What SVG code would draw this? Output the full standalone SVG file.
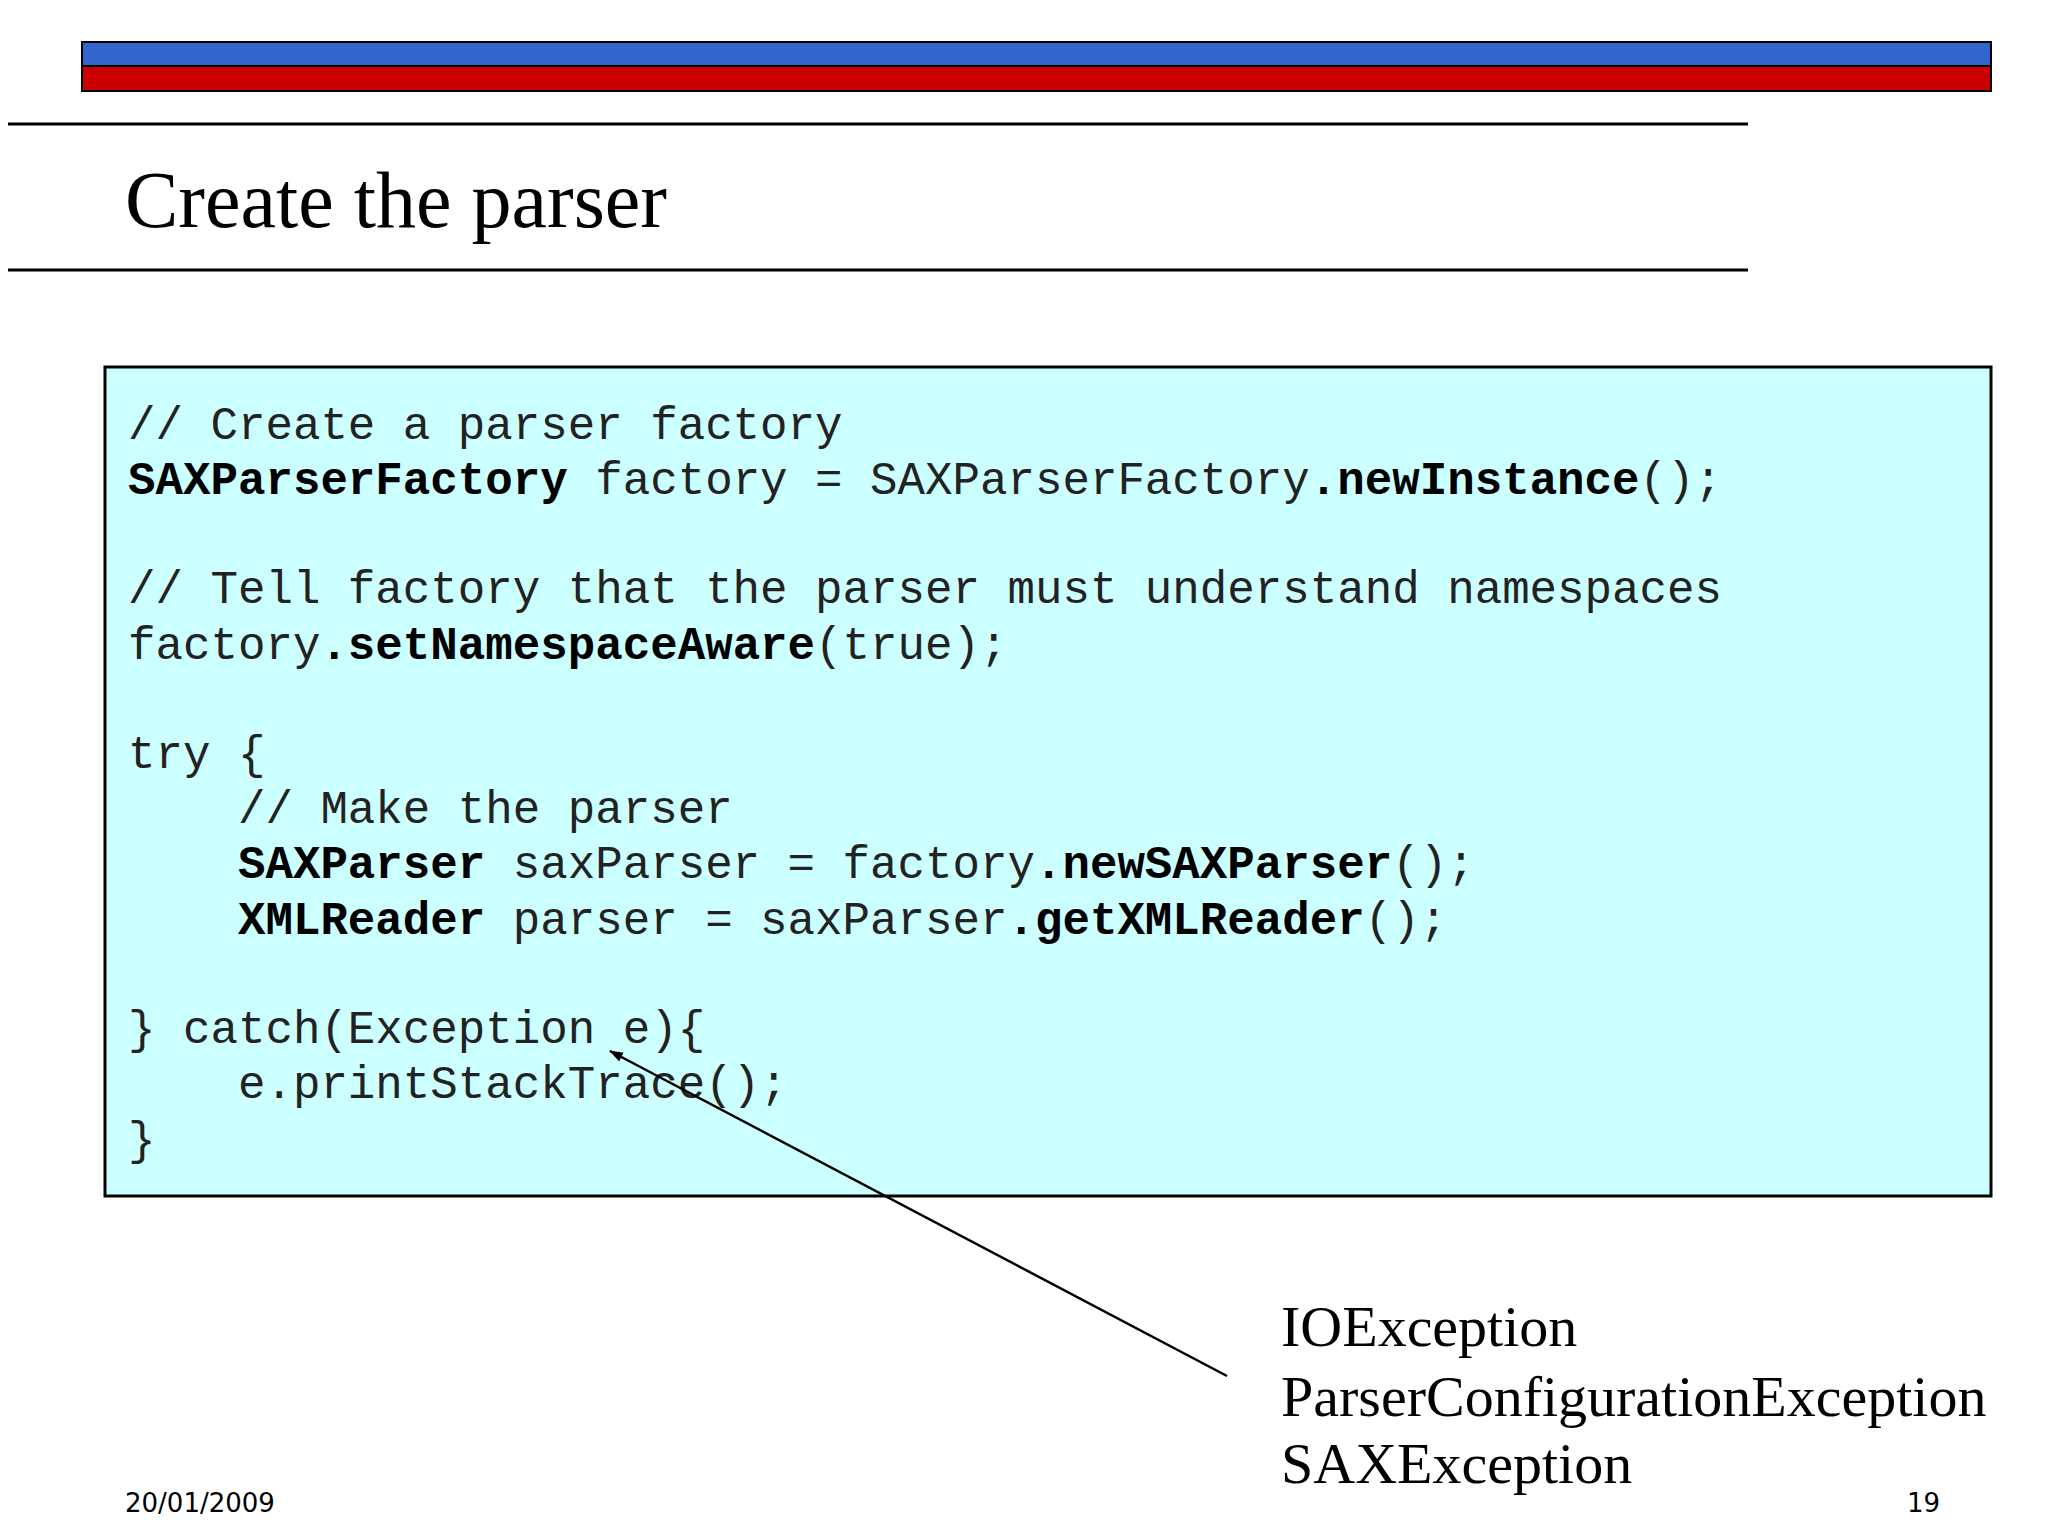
<svg xmlns="http://www.w3.org/2000/svg" width="2048" height="1536" viewBox="0 0 2048 1536">
<defs>
<style>
.code{font-family:"Liberation Mono",monospace;font-size:45.8px;fill:#222}
.b{font-weight:bold;fill:#000}
.lab{font-family:"Liberation Serif",serif;font-size:58px;fill:#000}
.foot{font-family:"DejaVu Sans",sans-serif;font-size:26px;fill:#000}
</style>
<marker id="ah" markerWidth="14" markerHeight="10" refX="13" refY="5" orient="auto" markerUnits="userSpaceOnUse"><path d="M0,0 L14,5 L0,10 z" fill="#000"/></marker>
</defs>
<rect width="2048" height="1536" fill="#fff"/>
<rect x="82" y="42" width="1909" height="24" fill="#3366cc" stroke="#000" stroke-width="2"/>
<rect x="82" y="66" width="1909" height="25" fill="#cc0000" stroke="#000" stroke-width="2"/>
<line x1="8" y1="124" x2="1748" y2="124" stroke="#000" stroke-width="3"/>
<line x1="8" y1="270" x2="1748" y2="270" stroke="#000" stroke-width="3"/>
<text x="125" y="227" font-family="Liberation Serif,serif" font-size="80">Create the parser</text>
<g id="code">
<rect x="105" y="367" width="1886" height="829" fill="#ccffff" stroke="#000" stroke-width="3"/>
<text class="code" xml:space="preserve">
<tspan x="128" y="439">// Create a parser factory</tspan>
<tspan x="128" y="494"><tspan class="b">SAXParserFactory</tspan> factory = SAXParserFactory<tspan class="b">.newInstance</tspan>();</tspan>
<tspan x="128" y="603">// Tell factory that the parser must understand namespaces</tspan>
<tspan x="128" y="659">factory<tspan class="b">.setNamespaceAware</tspan>(true);</tspan>
<tspan x="128" y="768">try {</tspan>
<tspan x="128" y="823">    // Make the parser</tspan>
<tspan x="128" y="878">    <tspan class="b">SAXParser</tspan> saxParser = factory<tspan class="b">.newSAXParser</tspan>();</tspan>
<tspan x="128" y="934">    <tspan class="b">XMLReader</tspan> parser = saxParser<tspan class="b">.getXMLReader</tspan>();</tspan>
<tspan x="128" y="1043">} catch(Exception e){</tspan>
<tspan x="128" y="1098">    e.printStackTrace();</tspan>
<tspan x="128" y="1154">}</tspan>
</text>
</g>
<g id="connectors">
<line x1="1227" y1="1376" x2="610" y2="1051" stroke="#000" stroke-width="2.5" marker-end="url(#ah)"/>
</g>
<g id="exceptions">
<text class="lab" x="1281" y="1346">IOException</text>
<text class="lab" x="1281" y="1416">ParserConfigurationException</text>
<text class="lab" x="1281" y="1483">SAXException</text>
</g>
<text class="foot" x="125" y="1512">20/01/2009</text>
<text class="foot" x="1940" y="1512" text-anchor="end">19</text>
</svg>
